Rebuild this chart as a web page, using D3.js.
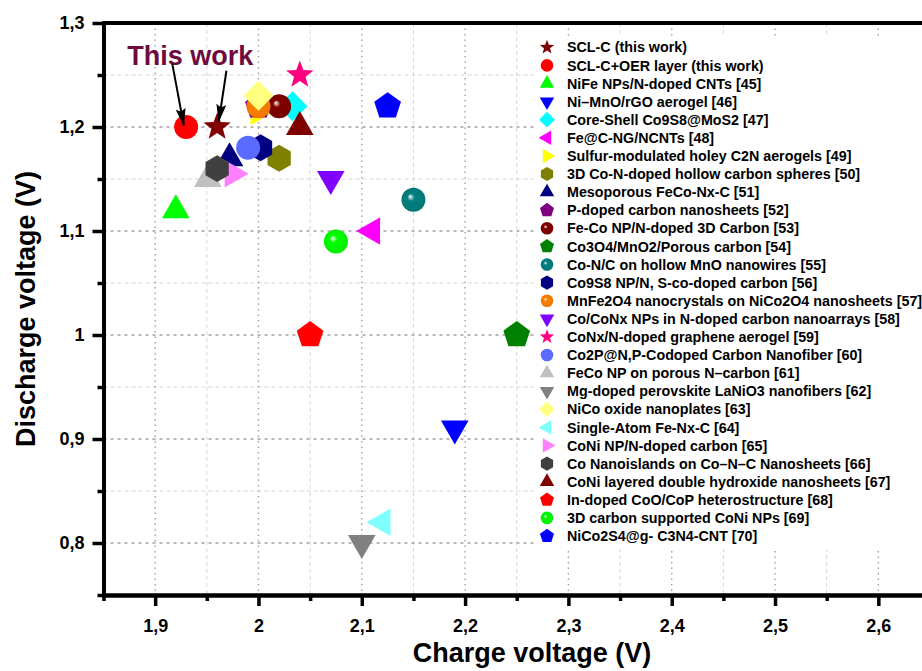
<!DOCTYPE html>
<html>
<head>
<meta charset="utf-8">
<script src="https://cdn.jsdelivr.net/npm/d3@7"></script>
<style>
  body { margin: 0; background: #fff; }
  svg text { font-family: "Liberation Sans", Arial, sans-serif; font-weight: bold; }
</style>
</head>
<body>
<div id="chart"></div>
<script>
// Series (legend order = drawing order)
const labels = [
  "SCL-C (this work)",
  "SCL-C+OER layer (this work)",
  "NiFe NPs/N-doped CNTs [45]",
  "Ni\u2013MnO/rGO aerogel [46]",
  "Core-Shell Co9S8@MoS2 [47]",
  "Fe@C-NG/NCNTs [48]",
  "Sulfur-modulated holey C2N aerogels [49]",
  "3D Co-N-doped hollow carbon spheres [50]",
  "Mesoporous FeCo-Nx-C [51]",
  "P-doped carbon nanosheets [52]",
  "Fe-Co NP/N-doped 3D Carbon [53]",
  "Co3O4/MnO2/Porous carbon [54]",
  "Co-N/C on hollow MnO nanowires [55]",
  "Co9S8 NP/N, S-co-doped carbon [56]",
  "MnFe2O4 nanocrystals on NiCo2O4 nanosheets [57]",
  "Co/CoNx NPs in N-doped carbon nanoarrays [58]",
  "CoNx/N-doped graphene aerogel [59]",
  "Co2P@N,P-Codoped Carbon Nanofiber [60]",
  "FeCo NP on porous N\u2013carbon [61]",
  "Mg-doped perovskite LaNiO3 nanofibers [62]",
  "NiCo oxide nanoplates [63]",
  "Single-Atom Fe-Nx-C [64]",
  "CoNi NP/N-doped carbon [65]",
  "Co Nanoislands on Co\u2013N\u2013C Nanosheets [66]",
  "CoNi layered double hydroxide nanosheets [67]",
  "In-doped CoO/CoP heterostructure [68]",
  "3D carbon supported CoNi NPs [69]",
  "NiCo2S4@g- C3N4-CNT [70]"
];
const chargeV = [1.96, 1.93, 1.92, 2.19, 2.033, 2.11, 2.0, 2.02, 1.972, 2.0, 2.02, 2.25, 2.15, 2.002,
  2.0, 2.07, 2.04, 1.99, 1.951, 2.1, 2.0, 2.12, 1.975, 1.96, 2.04, 2.05, 2.075, 2.125];
const dischargeV = [1.2, 1.2, 1.12, 0.91, 1.22, 1.1, 1.215, 1.17, 1.17, 1.22, 1.22, 1.0, 1.13, 1.18,
  1.22, 1.15, 1.25, 1.18, 1.15, 0.8, 1.23, 0.82, 1.155, 1.16, 1.2, 1.0, 1.09, 1.22];

// Marker styles
const markerShapes = ["star", "circle", "triUp", "triDown", "diamond", "triLeft", "triRight", "hexagon",
  "triUp", "pentagon", "sphere", "pentagon", "sphere", "hexagon", "sphere", "triDown", "star", "circle",
  "triUp", "triDown", "diamond", "triLeft", "triRight", "hexagon", "triUp", "pentagon", "sphere", "pentagon"];
const markerColors = ["#800000", "#ff0000", "#00ff00", "#0000ff", "#00ffff", "#ff00ff", "#ffff00", "#808000",
  "#000080", "#800080", "#800000", "#008000", "#008080", "#000080", "#ff8000", "#8000ff", "#ff0080", "#5b6bff",
  "#c0c0c0", "#808080", "#ffff80", "#80ffff", "#ff80ff", "#404040", "#800000", "#ff0000", "#00ff00", "#0000ff"];

// Axes
const xTicks = [1.9, 2.0, 2.1, 2.2, 2.3, 2.4, 2.5, 2.6];
const xTickLabels = ["1,9", "2", "2,1", "2,2", "2,3", "2,4", "2,5", "2,6"];
const xMinorTicks = [1.85, 1.95, 2.05, 2.15, 2.25, 2.35, 2.45, 2.55];
const yTicks = [0.8, 0.9, 1.0, 1.1, 1.2, 1.3];
const yTickLabels = ["0,8", "0,9", "1", "1,1", "1,2", "1,3"];
const yMinorTicks = [0.75, 0.85, 0.95, 1.05, 1.15, 1.25];

// Annotation: "This work" with two arrows (data units)
const noteText = "This work";
const notePos = [1.873, 1.2598];
const arrowTails = [[1.9165, 1.2612], [1.969, 1.2541]];
const arrowTips = [[1.9277, 1.2015], [1.9616, 1.2055]];

const width = 922;
const height = 671;

// Regular polygon path, angles in degrees
function polygon(n, r, startDeg) {
  const pts = d3.range(n).map((i) => {
    const a = ((startDeg + (360 / n) * i) * Math.PI) / 180;
    return [r * Math.cos(a), r * Math.sin(a)];
  });
  return "M" + pts.map((p) => p.join(",")).join("L") + "Z";
}

function starPath(r) {
  const pts = d3.range(10).map((i) => {
    const rr = i % 2 === 0 ? r : r * 0.42;
    const a = ((-90 + 36 * i) * Math.PI) / 180;
    return [rr * Math.cos(a), rr * Math.sin(a)];
  });
  return "M" + pts.map((p) => p.join(",")).join("L") + "Z";
}

function shapePath(shape, s) {
  switch (shape) {
    case "circle":
    case "sphere": {
      const p = d3.path();
      p.arc(0, 0, s, 0, 2 * Math.PI);
      p.closePath();
      return p.toString();
    }
    case "star": return starPath(s * 1.2);
    case "triUp": return polygon(3, s * 1.33, -90);
    case "triDown": return polygon(3, s * 1.33, 90);
    case "triLeft": return polygon(3, s * 1.33, 180);
    case "triRight": return polygon(3, s * 1.33, 0);
    case "diamond": return polygon(4, s * 1.25, -90);
    case "pentagon": return polygon(5, s * 1.17, -90);
    case "hexagon": return polygon(6, s * 1.12, -90);
  }
}

function createScatterPlot() {
  const svg = d3
    .select("#chart")
    .append("svg")
    .attr("width", width)
    .attr("height", height);

  svg.append("rect").attr("width", width).attr("height", height).attr("fill", "#fff");

  const x = d3.scaleLinear().domain([1.85, 2.65]).range([103.5, 930]);
  const y = d3.scaleLinear().domain([0.75, 1.3]).range([595, 23]);

  const defs = svg.append("defs");

  // glossy sphere gradients
  markerShapes.forEach((shape, i) => {
    if (shape !== "sphere") return;
    const g = defs
      .append("radialGradient")
      .attr("id", "sph" + i)
      .attr("cx", 0.5)
      .attr("cy", 0.5)
      .attr("r", 0.55)
      .attr("fx", 0.36)
      .attr("fy", 0.36);
    const c = markerColors[i];
    g.append("stop").attr("offset", "0%").attr("stop-color", "#ffffff");
    g.append("stop").attr("offset", "8%").attr("stop-color", d3.interpolateRgb(c, "#fff")(0.7));
    g.append("stop").attr("offset", "28%").attr("stop-color", c);
    g.append("stop").attr("offset", "100%").attr("stop-color", d3.interpolateRgb(c, "#000")(0.08));
  });

  defs
    .append("marker")
    .attr("id", "arrowHead")
    .attr("markerUnits", "userSpaceOnUse")
    .attr("markerWidth", 18)
    .attr("markerHeight", 10)
    .attr("refX", 17)
    .attr("refY", 5)
    .attr("orient", "auto")
    .append("path")
    .attr("d", "M0,0L18,5L0,10L3,5Z")
    .attr("fill", "#000");

  // grid
  const grid = svg.append("g");
  xMinorTicks.forEach((v) => {
    grid.append("line")
      .attr("x1", x(v)).attr("x2", x(v)).attr("y1", y(1.3)).attr("y2", y(0.75))
      .attr("stroke", "#d6d6d6").attr("stroke-width", 1).attr("stroke-dasharray", "4,3");
  });
  yMinorTicks.forEach((v) => {
    grid.append("line")
      .attr("x1", x(1.85)).attr("x2", width).attr("y1", y(v)).attr("y2", y(v))
      .attr("stroke", "#d6d6d6").attr("stroke-width", 1).attr("stroke-dasharray", "4,3");
  });
  xTicks.forEach((v) => {
    grid.append("line")
      .attr("x1", x(v)).attr("x2", x(v)).attr("y1", y(1.3)).attr("y2", y(0.75))
      .attr("stroke", "#a0a0a0").attr("stroke-width", 1.4).attr("stroke-dasharray", "1.5,4");
  });
  yTicks.forEach((v) => {
    grid.append("line")
      .attr("x1", x(1.85)).attr("x2", width).attr("y1", y(v)).attr("y2", y(v))
      .attr("stroke", "#a0a0a0").attr("stroke-width", 1.4).attr("stroke-dasharray", "3,4");
  });

  // markers
  const marks = svg.append("g");
  labels.forEach((label, i) => {
    const shape = markerShapes[i];
    marks
      .append("path")
      .attr("d", shapePath(shape, 12))
      .attr("transform", `translate(${x(chargeV[i])},${y(dischargeV[i])})`)
      .attr("fill", shape === "sphere" ? `url(#sph${i})` : markerColors[i]);
  });

  // annotation
  svg
    .append("text")
    .attr("x", x(notePos[0]))
    .attr("y", y(notePos[1]))
    .attr("font-size", "27px")
    .attr("fill", "#6e0a3c")
    .text(noteText);
  arrowTails.forEach((t, i) => {
    svg
      .append("line")
      .attr("x1", x(t[0]))
      .attr("y1", y(t[1]))
      .attr("x2", x(arrowTips[i][0]))
      .attr("y2", y(arrowTips[i][1]))
      .attr("stroke", "#000")
      .attr("stroke-width", 2)
      .attr("marker-end", "url(#arrowHead)");
  });

  // legend
  const legend = svg.append("g");
  legend.append("rect")
    .attr("x", 534).attr("y", 37).attr("width", 400).attr("height", 512)
    .attr("fill", "#fff");
  labels.forEach((label, i) => {
    const ly = 47.3 + i * 18.1;
    const shape = markerShapes[i];
    legend
      .append("path")
      .attr("d", shapePath(shape, 6.3))
      .attr("transform", `translate(547,${ly})`)
      .attr("fill", shape === "sphere" ? `url(#sph${i})` : markerColors[i]);
    legend
      .append("text")
      .attr("x", 567)
      .attr("y", ly)
      .attr("dy", "0.36em")
      .attr("font-size", "14.3px")
      .attr("fill", "#000")
      .text(label);
  });

  // axes
  const xAxisMinor = d3.axisBottom(x).tickValues(xMinorTicks).tickSize(6).tickSizeOuter(0).tickFormat("");
  const xAxis = d3.axisBottom(x).tickValues(xTicks).tickSize(11).tickSizeOuter(0)
    .tickPadding(13).tickFormat((d, i) => xTickLabels[i]);
  const yAxisMinor = d3.axisLeft(y).tickValues(yMinorTicks).tickSize(6).tickSizeOuter(0).tickFormat("");
  const yAxis = d3.axisLeft(y).tickValues(yTicks).tickSize(11).tickSizeOuter(0)
    .tickPadding(8).tickFormat((d, i) => yTickLabels[i]);

  const axes = svg.append("g");
  [
    [xAxisMinor, `translate(0,${y(0.75)})`],
    [xAxis, `translate(0,${y(0.75)})`],
    [yAxisMinor, `translate(${x(1.85)},0)`],
    [yAxis, `translate(${x(1.85)},0)`]
  ].forEach(([ax, tr]) => {
    const g = axes.append("g").attr("transform", tr).call(ax);
    g.select(".domain").attr("stroke-width", 4).attr("stroke-linecap", "square");
    g.selectAll(".tick line").attr("stroke-width", 3.5);
    g.selectAll(".tick text")
      .attr("font-size", "18px")
      .attr("font-family", '"Liberation Sans", Arial, sans-serif')
      .attr("font-weight", "bold")
      .attr("fill", "#000");
  });
  // top frame
  axes.append("line")
    .attr("x1", x(1.85)).attr("x2", width + 10).attr("y1", y(1.3)).attr("y2", y(1.3))
    .attr("stroke", "#000").attr("stroke-width", 4);

  // axis titles
  svg.append("text")
    .attr("x", 532)
    .attr("y", 662)
    .attr("text-anchor", "middle")
    .attr("font-size", "27px")
    .text("Charge voltage (V)");
  svg.append("text")
    .attr("transform", "translate(35,309) rotate(-90)")
    .attr("text-anchor", "middle")
    .attr("font-size", "27px")
    .text("Discharge voltage (V)");
}

createScatterPlot();
</script>
</body>
</html>
